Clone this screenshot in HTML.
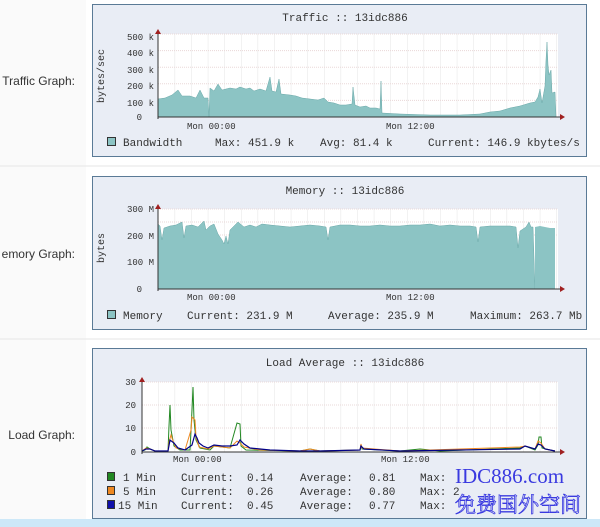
<!DOCTYPE html>
<html><head><meta charset="utf-8"><style>
html,body{margin:0;padding:0;background:#fff;width:600px;height:527px;overflow:hidden}
svg{display:block}
.m{font-family:"Liberation Mono",monospace;fill:#333;white-space:pre}
.s{font-family:"Liberation Sans",sans-serif;font-size:12px;fill:#333}
</style></head><body>
<svg width="600" height="527" viewBox="0 0 600 527" xmlns="http://www.w3.org/2000/svg">
<defs>
<pattern id="g" x="158" y="0" width="16.6" height="8" patternUnits="userSpaceOnUse">
<path d="M0 0V8" stroke="#e4e4e4" stroke-width="1"/>
</pattern>
<clipPath id="c1"><rect x="93" y="0" width="493" height="527"/></clipPath>
</defs>
<rect width="600" height="527" fill="#fafafa"/>
<rect x="86" y="0" width="514" height="527" fill="#fff"/>
<line x1="0" y1="166" x2="600" y2="166" stroke="#e6e6e6"/>
<line x1="0" y1="339" x2="600" y2="339" stroke="#e6e6e6"/>
<rect x="0" y="519" width="600" height="8" fill="#cde8f8"/>
<text class="s" x="75" y="85" text-anchor="end">Traffic Graph:</text>
<text class="s" x="75" y="258" text-anchor="end">emory Graph:</text>
<text class="s" x="75" y="439" text-anchor="end">Load Graph:</text>

<!-- Panel 1 -->
<rect x="92.5" y="4.5" width="494" height="152" fill="#e9edf5" stroke="#5a7a96"/>
<text class="m" x="345" y="21" font-size="11" text-anchor="middle" fill="#222">Traffic :: 13idc886</text>
<rect x="158" y="34" width="400" height="83" fill="#fff"/>
<rect x="158" y="34" width="400" height="83" fill="url(#g)"/>
<g stroke="#ead8d8" stroke-dasharray="1,1"><line x1="158" y1="34" x2="558" y2="34"/><line x1="158" y1="50.6" x2="558" y2="50.6"/><line x1="158" y1="67.2" x2="558" y2="67.2"/><line x1="158" y1="83.8" x2="558" y2="83.8"/><line x1="158" y1="100.4" x2="558" y2="100.4"/></g>
<polygon fill="#8cc4c4" stroke="#6aa8a8" stroke-width="0.5" points="158,117 158,99 165,98 172,95 178,90 182,96 190,96 196,98 200,90 204,98 208,98 209,117 210,88 214,91 218,84 222,90 230,88 236,89 240,87 246,89 250,88 254,91 260,89 266,91 270,77 272,91 276,92 279,79 281,94 290,95 296,96 302,98 310,99 318,100 324,98 328,102 334,103 340,105 346,105 352,104 353,87 355,105 360,107 366,106 370,108 376,108 380,109 381,81 382,113 400,114 430,115 460,115 480,114 490,112 500,111 510,108 520,106 530,103 535,102 538,97 540,89 542,103 545,86 546,60 547,42 548,65 549,75 551,70 552,93 555,92 556,117"/>
<line x1="158" y1="117" x2="563" y2="117" stroke="#333"/>
<line x1="158" y1="31" x2="158" y2="119" stroke="#333"/>
<polygon points="155,34 161,34 158,29" fill="#a02020"/><polygon points="560,114 560,120 565,117" fill="#a02020"/>
<g class="m" font-size="9" text-anchor="end"><text x="154" y="40">500 k</text><text x="154" y="56">400 k</text><text x="154" y="73">300 k</text><text x="154" y="89">200 k</text><text x="154" y="106">100 k</text><text x="142" y="120">0</text></g>
<text class="m" font-size="10" transform="translate(104,76) rotate(-90)" text-anchor="middle">bytes/sec</text>
<g class="m" font-size="9"><text x="187" y="129">Mon 00:00</text><text x="386" y="129">Mon 12:00</text></g>
<rect x="107.5" y="137.5" width="8" height="8" fill="#8cc4c4" stroke="#333"/>
<g class="m" font-size="11" clip-path="url(#c1)"><text x="123" y="146">Bandwidth</text><text x="215" y="146">Max: 451.9 k</text><text x="320" y="146">Avg:  81.4 k</text><text x="428" y="146">Current: 146.9 kbytes/s</text></g>

<!-- Panel 2 -->
<rect x="92.5" y="176.5" width="494" height="153" fill="#e9edf5" stroke="#5a7a96"/>
<text class="m" x="345" y="194" font-size="11" text-anchor="middle" fill="#222">Memory :: 13idc886</text>
<rect x="158" y="209" width="400" height="80" fill="#fff"/>
<rect x="158" y="209" width="400" height="80" fill="url(#g)"/>
<g stroke="#ead8d8" stroke-dasharray="1,1"><line x1="158" y1="209" x2="558" y2="209"/><line x1="158" y1="222" x2="558" y2="222"/><line x1="158" y1="235" x2="558" y2="235"/></g>
<polygon fill="#8cc4c4" stroke="#6aa8a8" stroke-width="0.5" points="158,289 158,224 160,226 162,240 164,228 170,226 176,225 182,222 184,238 186,226 192,225 198,227 204,221 206,230 210,226 214,224 218,234 222,240 224,244 226,236 228,244 230,230 234,226 238,222 244,227 250,225 256,227 262,224 270,225 280,226 290,227 300,226 310,225 320,226 326,227 328,240 330,227 340,225 350,225 360,226 370,226 380,225 390,226 400,226 410,225 420,225 430,224 440,226 450,225 460,226 470,226 476,227 478,242 480,227 490,226 500,226 510,226 516,227 518,248 520,231 526,227 529,222 531,227 533,227 535,289"/>
<polygon fill="#8cc4c4" points="535,289 535,227 540,226 545,227 550,228 555,228 555,289"/>
<line x1="158" y1="289" x2="563" y2="289" stroke="#333"/>
<line x1="158" y1="206" x2="158" y2="291" stroke="#333"/>
<polygon points="155,209 161,209 158,204" fill="#a02020"/><polygon points="560,286 560,292 565,289" fill="#a02020"/>
<g class="m" font-size="9" text-anchor="end"><text x="154" y="212">300 M</text><text x="154" y="239">200 M</text><text x="154" y="265">100 M</text><text x="142" y="292">0</text></g>
<text class="m" font-size="10" transform="translate(104,248) rotate(-90)" text-anchor="middle">bytes</text>
<g class="m" font-size="9"><text x="187" y="300">Mon 00:00</text><text x="386" y="300">Mon 12:00</text></g>
<rect x="107.5" y="310.5" width="8" height="8" fill="#8cc4c4" stroke="#333"/>
<g class="m" font-size="11" clip-path="url(#c1)"><text x="123" y="319">Memory</text><text x="187" y="319">Current: 231.9 M</text><text x="328" y="319">Average: 235.9 M</text><text x="470" y="319">Maximum: 263.7 Mb</text></g>

<!-- Panel 3 -->
<rect x="92.5" y="348.5" width="494" height="170" fill="#e9edf5" stroke="#5a7a96"/>
<text class="m" x="345" y="366" font-size="11" text-anchor="middle" fill="#222">Load Average :: 13idc886</text>
<rect x="142" y="382" width="416" height="70" fill="#fff"/>
<rect x="142" y="382" width="416" height="70" fill="url(#g)"/>
<g stroke="#ead8d8" stroke-dasharray="1,1"><line x1="142" y1="382" x2="558" y2="382"/><line x1="142" y1="405" x2="558" y2="405"/><line x1="142" y1="428" x2="558" y2="428"/></g>
<polyline fill="none" stroke="#228822" stroke-width="1" points="142,451 145,450 147,447 150,449 155,451 168,451 169,426 170,405 171,430 174,446 180,450 190,450 192,410 193,387 194,420 196,440 200,448 210,450 214,446 230,448 237,423 240,424 241,446 246,450 300,451 310,449 320,451 360,450 361,445 362,449 400,451 420,449 440,451 520,448 525,446 535,450 538,445 539,437 541,437 542,448 550,450 555,451"/>
<polyline fill="none" stroke="#ee8822" stroke-width="1" points="142,451 146,448 150,449 155,451 168,451 169,442 171,435 173,441 176,448 185,450 191,430 192,417 195,420 196,437 199,447 208,449 214,446 230,448 237,441 240,443 244,447 260,450 300,451 310,449 320,451 360,450 361,444 362,448 400,451 520,447 525,446 535,449 538,441 541,443 545,449 555,451"/>
<polyline fill="none" stroke="#000088" stroke-width="1.2" points="142,451 146,449 150,449 155,451 168,451 170,440 174,443 178,448 185,450 192,445 195,434 197,438 199,443 203,446 208,448 214,445 222,446 230,446 237,445 240,440 244,444 250,448 270,450 300,451 320,451 360,450 361,446 364,449 400,451 520,449 525,446 535,449 538,444 541,445 545,449 555,451"/>
<line x1="142" y1="452" x2="563" y2="452" stroke="#333"/>
<line x1="142" y1="379" x2="142" y2="454" stroke="#333"/>
<polygon points="139,382 145,382 142,377" fill="#a02020"/><polygon points="560,449 560,455 565,452" fill="#a02020"/>
<g class="m" font-size="9" text-anchor="end"><text x="136" y="385">30</text><text x="136" y="408">20</text><text x="136" y="431">10</text><text x="136" y="455">0</text></g>
<g class="m" font-size="9"><text x="173" y="462">Mon 00:00</text><text x="381" y="462">Mon 12:00</text></g>
<rect x="107.5" y="472.5" width="7" height="8" fill="#228822" stroke="#333"/>
<rect x="107.5" y="486.5" width="7" height="8" fill="#ee8822" stroke="#333"/>
<rect x="107.5" y="500.5" width="7" height="8" fill="#1010aa" stroke="#333"/>
<g class="m" font-size="11">
<text x="123" y="481">1 Min</text><text x="181" y="481">Current:</text><text x="247" y="481">0.14</text><text x="300" y="481">Average:</text><text x="369" y="481">0.81</text><text x="420" y="481">Max:</text>
<text x="123" y="495">5 Min</text><text x="181" y="495">Current:</text><text x="247" y="495">0.26</text><text x="300" y="495">Average:</text><text x="369" y="495">0.80</text><text x="420" y="495">Max: 2</text>
<text x="118" y="509">15 Min</text><text x="181" y="509">Current:</text><text x="247" y="509">0.45</text><text x="300" y="509">Average:</text><text x="369" y="509">0.77</text><text x="420" y="509">Max:</text>
</g>
<text x="455" y="483" font-family="Liberation Serif,serif" font-size="21" fill="#3a3ae0">IDC886.com</text>
<text x="455" y="512" font-family="Liberation Serif,'Noto Serif CJK SC',serif" font-size="21" fill="none" stroke="#3a3ae0" stroke-width="0.8">免费国外空间</text>
</svg>
</body></html>
